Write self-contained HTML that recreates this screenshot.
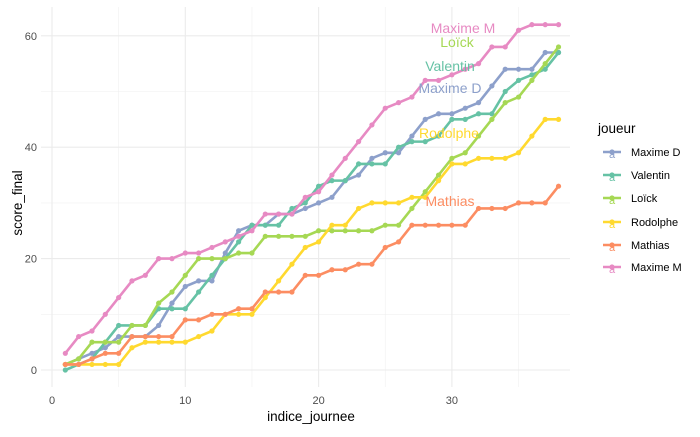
<!DOCTYPE html>
<html><head><meta charset="utf-8"><style>
body{margin:0;background:#fff;font-family:"Liberation Sans",sans-serif}
text{font-family:"Liberation Sans",sans-serif}
</style></head><body>
<svg id="c" width="700" height="432" xmlns="http://www.w3.org/2000/svg"></svg>
<script>
const journees = Array.from({length:38},(_, i)=>i+1);
const seriesNames = ["Maxime D","Valentin","Loïck","Rodolphe","Mathias","Maxime M"];
const seriesColors = ["#8DA0CB","#66C2A5","#A6D854","#FFD92F","#FC8D62","#E78AC3"];
const maximeD = [1,2,3,4,6,6,6,8,12,15,16,16,21,25,26,26,28,28,29,30,31,34,35,38,39,39,42,45,46,46,47,48,51,54,54,54,57,57];
const valentin = [0,1,2,5,8,8,8,11,11,11,14,17,20,23,26,26,26,29,30,33,34,34,37,37,37,40,41,41,42,45,45,46,46,50,52,53,54,57];
const loick = [1,2,5,5,5,8,8,12,14,17,20,20,20,21,21,24,24,24,24,25,25,25,25,25,26,26,29,32,35,38,39,42,45,48,49,52,55,58];
const rodolphe = [1,1,1,1,1,4,5,5,5,5,6,7,10,10,10,13,16,19,22,23,26,26,29,30,30,30,31,31,34,37,37,38,38,38,39,42,45,45];
const mathias = [1,1,2,3,3,6,6,6,6,9,9,10,10,11,11,14,14,14,17,17,18,18,19,19,22,23,26,26,26,26,26,29,29,29,30,30,30,33];
const maximeM = [3,6,7,10,13,16,17,20,20,21,21,22,23,24,25,28,28,28,31,32,35,38,41,44,47,48,49,52,52,53,54,55,58,58,61,62,62,62];
const allSeries = [maximeD,valentin,loick,rodolphe,mathias,maximeM];
const xTicks = [0,10,20,30];
const yTicks = [0,20,40,60];
const labelPos = [[450,88],[450,66],[457,42],[449,133],[450,201],[463,28]];

const NS="http://www.w3.org/2000/svg";
const svg=document.getElementById('c');
const X=v=>52+13.33*v, Y=v=>370-5.57*v;
const L=41,R=570,T=7,B=387;
function mk(t,a,p){const e=document.createElementNS(NS,t);for(const k in a)e.setAttribute(k,a[k]);(p||svg).appendChild(e);return e;}
const grid=mk('g',{});


[5,15,25,35].forEach(v=>mk('line',{x1:X(v),x2:X(v),y1:T,y2:B,stroke:'#f0f0f0','stroke-width':0.6},grid));
[10,30,50].forEach(v=>mk('line',{x1:L,x2:R,y1:Y(v),y2:Y(v),stroke:'#f0f0f0','stroke-width':0.6},grid));
xTicks.forEach(v=>mk('line',{x1:X(v),x2:X(v),y1:T,y2:B,stroke:'#ebebeb','stroke-width':1.1},grid));
yTicks.forEach(v=>mk('line',{x1:L,x2:R,y1:Y(v),y2:Y(v),stroke:'#ebebeb','stroke-width':1.1},grid));
xTicks.forEach(v=>{const t=mk('text',{x:X(v),y:404,'text-anchor':'middle','font-size':11,fill:'#4d4d4d'});t.textContent=v;

});
yTicks.forEach(v=>{const t=mk('text',{x:37,y:Y(v)+4,'text-anchor':'end','font-size':11,fill:'#4d4d4d'});t.textContent=v;

});
allSeries.forEach((s,i)=>{
  const g=mk('g',{});
  
  
  mk('polyline',{points:s.map((v,j)=>X(journees[j])+','+Y(v)).join(' '),fill:'none',stroke:seriesColors[i],'stroke-width':2.6,'stroke-linejoin':'round'},g);
  s.forEach((v,j)=>mk('circle',{cx:X(journees[j]),cy:Y(v),r:2.6,fill:seriesColors[i]},g));
});
allSeries.forEach((s,i)=>{
  const t=mk('text',{x:labelPos[i][0],y:labelPos[i][1]+5,'text-anchor':'middle','font-size':14,fill:seriesColors[i]});
  t.textContent=seriesNames[i];
  
  
});
const xt=mk('text',{x:311,y:421,'text-anchor':'middle','font-size':13.5,fill:'#000'});xt.textContent='indice_journee';


const yt=mk('text',{x:0,y:0,transform:'translate(22,203) rotate(-90)','text-anchor':'middle','font-size':13.5,fill:'#000'});yt.textContent='score_final';


const lg=mk('g',{});


const lt=mk('text',{x:598,y:133,'font-size':13.5,fill:'#000'},lg);lt.textContent='joueur';
const ly=[152,175,198,222,245,267];
seriesNames.forEach((n,i)=>{
  const e=mk('g',{},lg);
  
  
  mk('line',{x1:603,x2:621,y1:ly[i],y2:ly[i],stroke:seriesColors[i],'stroke-width':2.6},e);
  mk('circle',{cx:612,cy:ly[i],r:2.6,fill:seriesColors[i]},e);
  const a=mk('text',{x:612,y:ly[i]+6,'text-anchor':'middle','font-size':11,fill:seriesColors[i]},e);a.textContent='a';
  const t=mk('text',{x:631,y:ly[i]+4,'font-size':11,fill:'#000'},e);t.textContent=n;
});
</script>
</body></html>
